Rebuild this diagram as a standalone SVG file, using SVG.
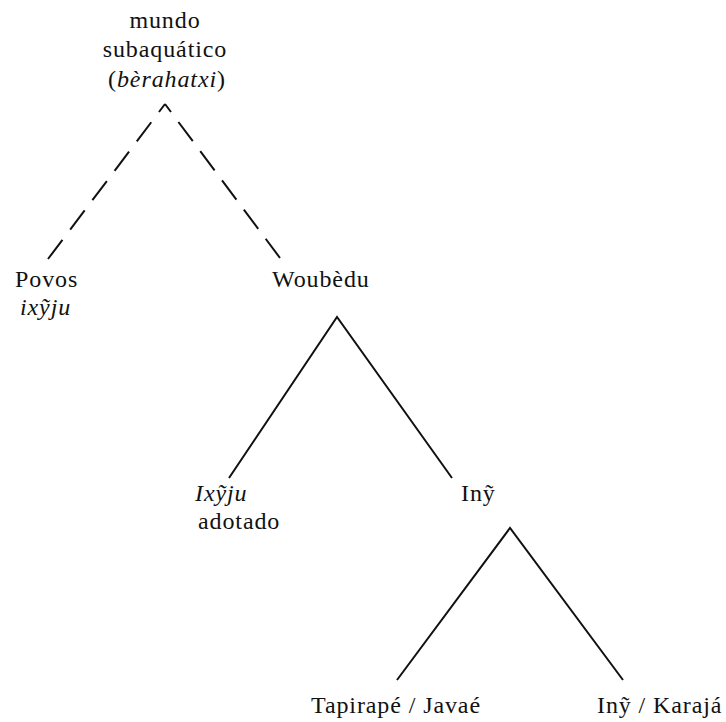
<svg xmlns="http://www.w3.org/2000/svg" width="726" height="722" viewBox="0 0 726 722">
<style>
text{font-family:"Liberation Serif","DejaVu Serif",serif;font-size:24px;letter-spacing:0.9px;fill:#111}
.i{font-style:italic}
.e{stroke:#111;stroke-width:2;fill:none}
</style>
<rect width="726" height="722" fill="#fff"/>
<g id="connectors">
<path class="e" d="M165 104 L48 259" stroke-dasharray="24 12.84" stroke-dashoffset="14"/>
<path class="e" d="M165 104 L280 258" stroke-dasharray="24 12.44" stroke-dashoffset="14"/>
<path class="e" d="M229 478 L337 317 L452 478"/>
<path class="e" d="M397 680 L510 528 L623 680"/>
</g>
<g id="root"><text x="165" y="28" text-anchor="middle">mundo</text><text x="165" y="57" text-anchor="middle">subaquático</text><text x="167" y="87" text-anchor="middle">(<tspan class="i">bèrahatxi</tspan>)</text></g>
<g id="povos"><text x="15" y="287">Povos</text><text x="20" y="315" class="i">ixỹju</text></g>
<g id="woubedu"><text x="272" y="287">Woubèdu</text></g>
<g id="ixyju"><text x="195" y="501" class="i">Ixỹju</text><text x="198" y="529">adotado</text></g>
<g id="iny"><text x="461" y="501">Inỹ</text></g>
<g id="tapirape"><text x="311" y="713">Tapirapé / Javaé</text></g>
<g id="karaja"><text x="597" y="713">Inỹ / Karajá</text></g>
</svg>
